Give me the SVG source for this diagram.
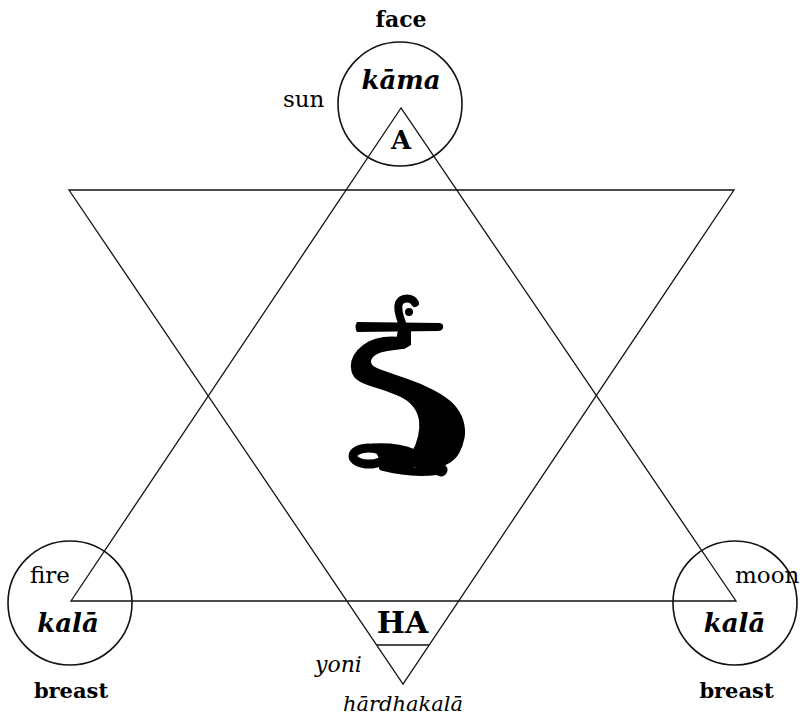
<svg xmlns="http://www.w3.org/2000/svg" width="807" height="720" viewBox="0 0 807 720">
<style>
.ln{fill:none;stroke:#111;stroke-width:1.3;stroke-linejoin:miter}
.cir{fill:none;stroke:#111;stroke-width:1.6}
text{font-family:"DejaVu Serif","Liberation Serif",serif;fill:#000}
.b{font-weight:bold}
.bi{font-weight:bold;font-style:italic}
.i{font-style:italic}
.g{fill:#000;stroke:none}
</style>
<rect width="807" height="720" fill="#fff"/>
<g id="connectors">
<polygon class="ln" points="401,108 71,601 736,601"/>
<polygon class="ln" points="69,190 734,190 403,684"/>
<line class="ln" x1="377" y1="645" x2="429" y2="645"/>
</g>
<g id="node-top">
<circle class="cir" cx="400" cy="104" r="62"/>
<text class="b" x="401" y="27" font-size="22" text-anchor="middle">face</text>
<text x="283" y="107" font-size="23">sun</text>
<text class="bi" x="401" y="89" font-size="26" text-anchor="middle">kāma</text>
<text class="b" x="401" y="149" font-size="26" text-anchor="middle">A</text>
</g>
<g id="node-left">
<circle class="cir" cx="70" cy="603" r="62"/>
<text x="30" y="583" font-size="23">fire</text>
<text class="bi" x="68" y="632" font-size="26" text-anchor="middle">kalā</text>
<text class="b" x="71" y="698" font-size="21" text-anchor="middle">breast</text>
</g>
<g id="node-right">
<circle class="cir" cx="735" cy="603" r="62"/>
<text x="735" y="583" font-size="23">moon</text>
<text class="bi" x="734.5" y="632" font-size="26" text-anchor="middle">kalā</text>
<text class="b" x="736.5" y="698" font-size="21" text-anchor="middle">breast</text>
</g>
<g id="node-bottom">
<text class="b" x="402.5" y="633" font-size="30" text-anchor="middle">HA</text>
<text class="i" x="315" y="672" font-size="22">yoni</text>
<text class="i" x="343" y="711" font-size="21">hārdhakalā</text>
</g>
<g id="symbol">
<path class="g" d="M357 322 L440 323 Q444 324 443 328 Q442 331 438 331 L357 332 Q354 327 357 322 Z"/>
<path d="M402 323 C399 315 397 308 399 303 C402 297 412 297 415 303" fill="none" stroke="#000" stroke-width="8" stroke-linecap="round"/>
<circle class="g" cx="409" cy="312" r="4"/>
<polygon class="g" points="398,330 411,330 411,345 404,349 390,349 396,340"/>
<path class="g" d="M401 337 Q410 338 409.5 343 Q409 348 402 349 Q395 350 387.5 351 Q380 352 375.5 355 Q371 358 371 362 Q371 366 380.5 369.5 Q390 373 405 378 Q420 383 433.5 390 Q447 397 454 404.5 Q461 412 463.5 421 Q466 430 464.5 438 Q463 446 459.5 452.5 Q456 459 449.5 463 Q443 467 435 469 Q427 471 420 469.5 Q413 468 410.5 463 Q408 458 412 451.5 Q416 445 418 436.5 Q420 428 419 420.5 Q418 413 413 406.5 Q408 400 397.5 395.5 Q387 391 375 387.5 Q363 384 358 380.5 Q353 377 351.5 371.5 Q350 366 351.5 360.5 Q353 355 357.5 350 Q362 345 368.5 341.5 Q375 338 383.5 337 Q392 336 401 337 Z"/>
<ellipse cx="369" cy="456" rx="16" ry="8" fill="none" stroke="#000" stroke-width="9"/>
<path class="g" d="M372 443.5 Q398 442 414 449 L414 468 Q398 470 383 467 Z"/>
<path d="M383 467 Q410 474 437 471" fill="none" stroke="#000" stroke-width="8" stroke-linecap="round"/>
<circle class="g" cx="441" cy="470" r="6.5"/>
</g>
</svg>
